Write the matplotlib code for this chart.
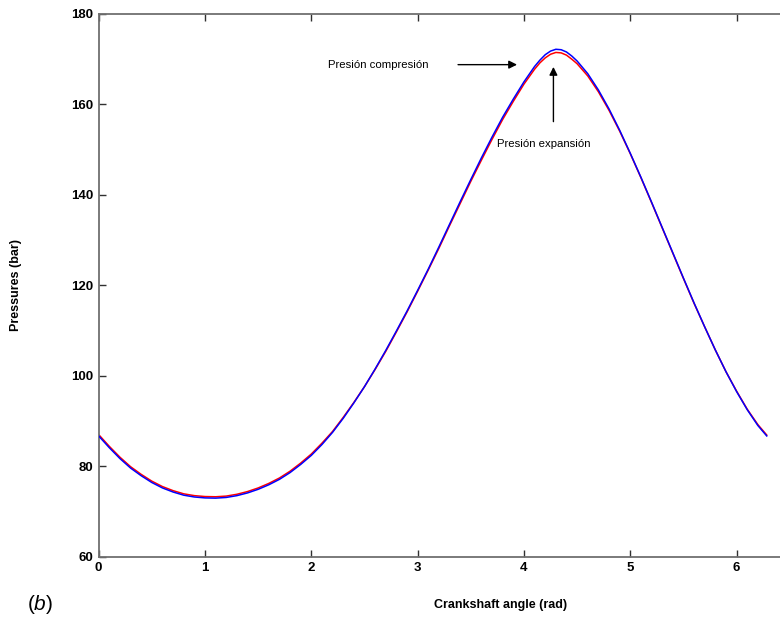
import matplotlib
matplotlib.use("Agg")
import matplotlib.pyplot as plt

plt.rcParams['font.family'] = ['Liberation Sans', 'DejaVu Sans']
plt.rcParams['mathtext.fontset'] = 'custom'
plt.rcParams['mathtext.rm'] = 'Liberation Sans'
plt.rcParams['mathtext.it'] = 'Liberation Sans:italic'

# Crankshaft angle samples (rad)
angle = [0.0, 0.1, 0.2, 0.3, 0.4, 0.5, 0.6, 0.7, 0.8, 0.9,
         1.0, 1.1, 1.2, 1.3, 1.4, 1.5, 1.6, 1.7, 1.8, 1.9,
         2.0, 2.1, 2.2, 2.3, 2.4, 2.5, 2.6, 2.7, 2.8, 2.9,
         3.0, 3.1, 3.2, 3.3, 3.4, 3.5, 3.6, 3.7, 3.8, 3.9,
         4.0, 4.1, 4.15, 4.2, 4.25, 4.3, 4.35, 4.4, 4.45, 4.5,
         4.6, 4.7, 4.8, 4.9, 5.0, 5.1, 5.2, 5.3, 5.4, 5.5,
         5.6, 5.7, 5.8, 5.9, 6.0, 6.1, 6.2, 6.2832]

# Compression pressure (bar), blue trace
p_compression = [86.7, 84.1, 81.7, 79.6, 77.9, 76.4, 75.2, 74.3, 73.6, 73.2,
                 73.0, 72.95, 73.1, 73.5, 74.1, 74.9, 75.9, 77.1, 78.6, 80.4,
                 82.4, 84.8, 87.5, 90.6, 94.0, 97.6, 101.5, 105.6, 109.9, 114.3,
                 118.9, 123.6, 128.5, 133.5, 138.5, 143.4, 148.2, 152.8, 157.2, 161.2,
                 165.0, 168.4, 169.8, 171.0, 171.8, 172.2, 172.1, 171.6, 170.7, 169.6,
                 166.8, 163.2, 159.0, 154.3, 149.2, 143.9, 138.4, 132.8, 127.2, 121.6,
                 116.1, 110.8, 105.7, 100.9, 96.5, 92.5, 89.0, 86.7]

# Expansion pressure (bar), red trace
p_expansion = [87.0, 84.4, 82.0, 79.9, 78.2, 76.7, 75.5, 74.6, 73.9, 73.5,
               73.3, 73.25, 73.4, 73.8, 74.4, 75.2, 76.2, 77.4, 78.9, 80.7,
               82.7, 85.1, 87.7, 90.8, 94.1, 97.6, 101.4, 105.4, 109.7, 114.1,
               118.7, 123.4, 128.2, 133.2, 138.1, 143.0, 147.7, 152.3, 156.7, 160.7,
               164.5, 167.8, 169.2, 170.3, 171.1, 171.5, 171.4, 170.9, 170.0, 169.0,
               166.3, 162.8, 158.7, 154.1, 149.1, 143.8, 138.3, 132.7, 127.1, 121.5,
               116.0, 110.8, 105.7, 100.9, 96.6, 92.6, 89.2, 86.9]

x_ticks = [0, 1, 2, 3, 4, 5, 6]
y_ticks = [60, 80, 100, 120, 140, 160, 180]

fig = plt.figure(figsize=(7.8, 6.25), dpi=100)
fig.patch.set_facecolor('white')
ax = fig.add_axes([0.1265, 0.1093, 0.9542, 0.8683])

ax.plot(angle, p_expansion, color='#ff0000', lw=1.1, zorder=2)
ax.plot(angle, p_compression, color='#0000ff', lw=1.1, zorder=3)

ax.set_xlim(0, 7)
ax.set_ylim(60, 180)
ax.set_xticks(x_ticks)
ax.set_yticks(y_ticks)
ax.tick_params(direction='in', length=5, width=1.0, color='#303030',
               top=True, right=True, labelsize=9.5, pad=4)
for lab in ax.get_xticklabels() + ax.get_yticklabels():
    lab.set_fontweight('bold')
for sp in ax.spines.values():
    sp.set_color('#707070')
    sp.set_linewidth(1.3)

ax.set_xlabel('Crankshaft angle (rad)', fontsize=9, fontweight='bold')
ax.xaxis.set_label_coords(0.5405, -0.078)
ax.set_ylabel('Pressures (bar)', fontsize=9, fontweight='bold')
ax.yaxis.set_label_coords(-0.103, 0.5)

arrow = dict(arrowstyle='-|>', color='black', lw=1.0, mutation_scale=12,
             shrinkA=0, shrinkB=0)
ax.annotate('', xy=(3.935, 168.8), xytext=(3.38, 168.8), arrowprops=arrow)
ax.text(2.627, 168.7, 'Presión compresión', fontsize=8.2,
        ha='center', va='center')
ax.annotate('', xy=(4.277, 168.3), xytext=(4.277, 156.2), arrowprops=arrow)
ax.text(4.19, 151.25, 'Presión expansión', fontsize=8.2,
        ha='center', va='center')

fig.text(0.051, 0.032, r'($b$)', fontsize=15, ha='center', va='center')

fig.savefig('out.png', dpi=100)
